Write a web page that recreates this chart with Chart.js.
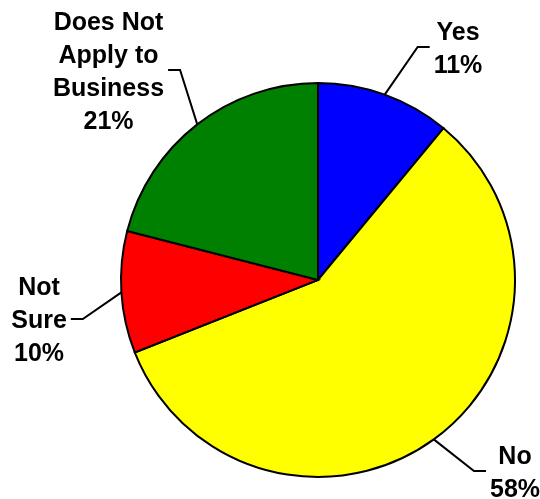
<!DOCTYPE html>
<html>
<head>
<meta charset="utf-8">
<script src="https://cdn.jsdelivr.net/npm/chart.js@4.4.1/dist/chart.umd.min.js"></script>
<style>
  html, body { margin: 0; padding: 0; background: #fff; }
  #wrap { width: 540px; height: 499px; }
</style>
</head>
<body>
<div id="wrap"><canvas id="pie"></canvas></div>
<script>
// answer categories (one entry per text line) and their shares in percent
const categories = [['Yes'], ['No'], ['Not', 'Sure'], ['Does Not', 'Apply to', 'Business']];
const shares = [11, 58, 10, 21];
const sliceColors = ['#0000ff', '#ffff00', '#ff0000', '#008000'];

// callout labels with elbow leader lines, placed around the pie
const calloutLabels = {
  id: 'calloutLabels',
  afterDraw(chart, args, opts) {
    const ctx = chart.ctx;
    const arcs = chart.getDatasetMeta(0).data;
    ctx.save();
    ctx.font = opts.font;
    ctx.fillStyle = '#000';
    ctx.strokeStyle = '#000';
    ctx.lineWidth = 2;
    ctx.textAlign = 'center';
    ctx.textBaseline = 'alphabetic';
    arcs.forEach((arc, i) => {
      const lines = categories[i].concat([shares[i] + '%']);
      const mid = (arc.startAngle + arc.endAngle) / 2;
      const ex = arc.x + Math.cos(mid) * arc.outerRadius;
      const ey = arc.y + Math.sin(mid) * arc.outerRadius;
      const cx = arc.x + opts.offsets[i][0];
      const cy = arc.y + opts.offsets[i][1];
      const w = Math.max(...lines.map(t => ctx.measureText(t).width));
      const side = opts.offsets[i][0] > 0 ? -1 : 1;
      const x0 = cx + side * (w / 2 + 4);
      const x1 = x0 + side * 12;
      ctx.beginPath();
      ctx.moveTo(x0, cy);
      ctx.lineTo(x1, cy);
      ctx.lineTo(ex, ey);
      ctx.stroke();
      lines.forEach((t, k) => {
        const y = cy - (lines.length - 1) * opts.lineHeight / 2 + k * opts.lineHeight;
        ctx.fillText(t, cx, y + 9);
      });
    });
    ctx.restore();
  }
};

new Chart(document.getElementById('pie'), {
  type: 'pie',
  data: {
    labels: categories,
    datasets: [{
      data: shares,
      backgroundColor: sliceColors,
      borderColor: '#000',
      borderWidth: 2,
      borderJoinStyle: 'miter'
    }]
  },
  options: {
    responsive: true,
    maintainAspectRatio: false,
    animation: false,
    radius: 197,
    layout: { padding: { left: 96, right: 0, top: 61, bottom: 0 } },
    plugins: {
      legend: { display: false },
      tooltip: { enabled: false },
      calloutLabels: {
        font: 'bold 25px "Liberation Sans", Arial, sans-serif',
        lineHeight: 33,
        offsets: [[140, -233], [197, 191], [-279, 39], [-209.5, -210]]
      }
    }
  },
  plugins: [calloutLabels]
});
</script>
</body>
</html>
